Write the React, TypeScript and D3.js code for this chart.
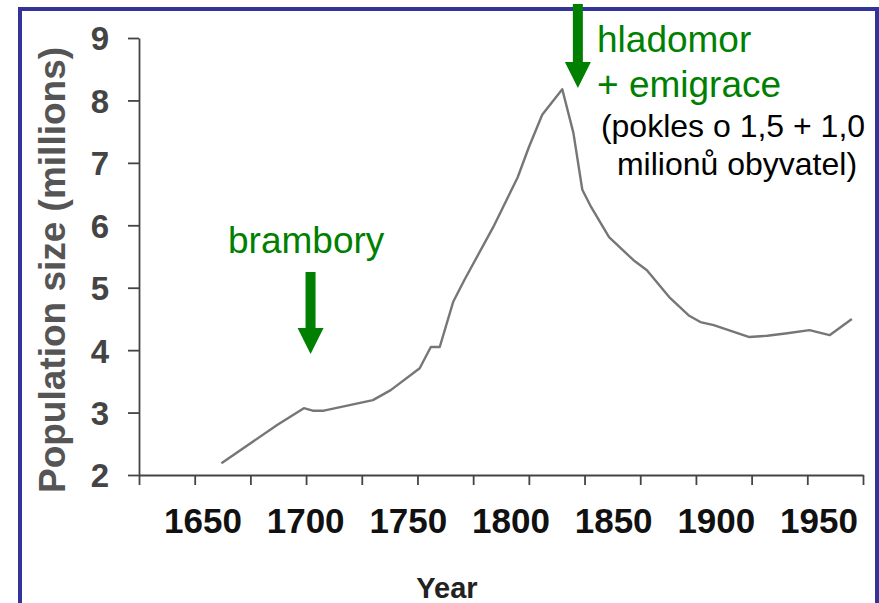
import * as React from "react";
import * as d3 from "d3";

// population of Ireland
const years = [1687, 1712, 1724, 1728, 1733, 1755, 1763, 1776, 1781, 1785, 1791, 1796, 1809, 1820, 1825, 1831, 1840, 1845, 1849, 1853, 1861, 1872, 1878, 1888, 1897, 1902, 1908, 1924, 1932, 1941, 1951, 1960, 1970];
const population = [2.19, 2.8, 3.07, 3.03, 3.03, 3.2, 3.36, 3.71, 4.05, 4.05, 4.77, 5.12, 5.97, 6.77, 7.25, 7.77, 8.18, 7.48, 6.57, 6.29, 5.81, 5.44, 5.28, 4.85, 4.55, 4.45, 4.4, 4.21, 4.23, 4.27, 4.32, 4.24, 4.5];
const yTicks = [2, 3, 4, 5, 6, 7, 8, 9];
const xTickYears = d3.range(1650, 1976, 25);
const xLabels = [1650, 1700, 1750, 1800, 1850, 1900, 1950];

const width = 879;
const height = 603;

function drawChart(svgRef: React.RefObject<SVGSVGElement>) {
  const svg = d3.select(svgRef.current);
  svg.selectAll("*").remove();

  const x = d3.scaleLinear().domain([1650, 1975]).range([139, 863]);
  const y = d3.scaleLinear().domain([2, 9]).range([475, 38]);
  // the year labels on the slide were pasted on and sit a bit off the ticks
  const xLabel = d3.scaleLinear().domain([1650, 1950]).range([203, 819]);

  // slide frame
  svg
    .append("rect")
    .attr("x", 20)
    .attr("y", 9)
    .attr("width", 857)
    .attr("height", 640)
    .attr("fill", "#fff")
    .attr("stroke", "#333399")
    .attr("stroke-width", 4);

  const yAxis = svg
    .append("g")
    .attr("transform", `translate(${x(1650)},0)`)
    .call(d3.axisLeft(y).tickValues(yTicks).tickSize(11).tickSizeOuter(0).tickPadding(19).tickFormat(d3.format("d")));
  yAxis.select(".domain").attr("stroke", "#444").attr("stroke-width", 1.8);
  yAxis.selectAll(".tick line").attr("stroke", "#444").attr("stroke-width", 1.8);
  yAxis
    .selectAll(".tick text")
    .attr("fill", "#444")
    .attr("font-family", "Liberation Sans, Arial, sans-serif")
    .attr("font-weight", "bold")
    .attr("font-size", 33)
    .attr("dy", "0.36em");

  const xAxis = svg
    .append("g")
    .attr("transform", `translate(0,${y(2)})`)
    .call(d3.axisBottom(x).tickValues(xTickYears).tickSize(10).tickSizeOuter(0).tickFormat(() => ""));
  xAxis.select(".domain").attr("stroke", "#444").attr("stroke-width", 1.8);
  xAxis.selectAll(".tick line").attr("stroke", "#444").attr("stroke-width", 1.8);

  svg
    .append("g")
    .selectAll("text")
    .data(xLabels)
    .enter()
    .append("text")
    .attr("x", (d) => xLabel(d))
    .attr("y", 533)
    .attr("text-anchor", "middle")
    .attr("font-family", "Liberation Sans, Arial, sans-serif")
    .attr("font-weight", "bold")
    .attr("font-size", 35)
    .attr("fill", "#111")
    .text((d) => d);

  svg
    .append("text")
    .attr("x", 447)
    .attr("y", 598)
    .attr("text-anchor", "middle")
    .attr("font-family", "Liberation Sans, Arial, sans-serif")
    .attr("font-weight", "bold")
    .attr("font-size", 29)
    .attr("fill", "#222")
    .text("Year");

  svg
    .append("text")
    .attr("transform", "translate(65,270) rotate(-90)")
    .attr("text-anchor", "middle")
    .attr("font-family", "Liberation Sans, Arial, sans-serif")
    .attr("font-weight", "bold")
    .attr("font-size", 37)
    .attr("fill", "#555")
    .text("Population size (millions)");

  const line = d3
    .line<number>()
    .x((d, i) => x(years[i]))
    .y((d) => y(d));

  svg
    .append("path")
    .datum(population)
    .attr("d", line)
    .attr("fill", "none")
    .attr("stroke", "#767676")
    .attr("stroke-width", 2.4)
    .attr("stroke-linejoin", "round");

  // annotations
  const green = "#007f00";
  const arrow = (cx: number, top: number, tip: number) => {
    const g = svg.append("g").attr("fill", green);
    g.append("rect").attr("x", cx - 5).attr("y", top).attr("width", 10).attr("height", tip - top - 20);
    g.append("path").attr("d", `M${cx - 13},${tip - 26}L${cx + 13},${tip - 26}L${cx},${tip}Z`);
  };
  arrow(x(1727), 272, 354);
  arrow(x(1847), 4, 88);

  const txt = (s: string, tx: number, ty: number, size: number, fill: string, anchor = "start") =>
    svg
      .append("text")
      .attr("x", tx)
      .attr("y", ty)
      .attr("text-anchor", anchor)
      .attr("font-family", "Liberation Sans, Arial, sans-serif")
      .attr("font-size", size)
      .attr("fill", fill)
      .text(s);

  txt("brambory", 228, 253, 37, green);
  txt("hladomor", 597, 52, 37, green);
  txt("+ emigrace", 597, 97, 37, green);
  txt("(pokles o 1,5 + 1,0", 733, 137, 32, "#000", "middle");
  txt("milionů obyvatel)", 737, 175, 32, "#000", "middle");
}

const App: React.FunctionComponent = () => {
  const svg = React.useRef<SVGSVGElement>(null);
  React.useEffect(() => {
    document.body.style.margin = "0";
    drawChart(svg);
  }, [svg]);

  return (
    <div id="chart">
      <svg ref={svg} width={width} height={height} style={{ display: "block" }} />
    </div>
  );
};

export default App;
